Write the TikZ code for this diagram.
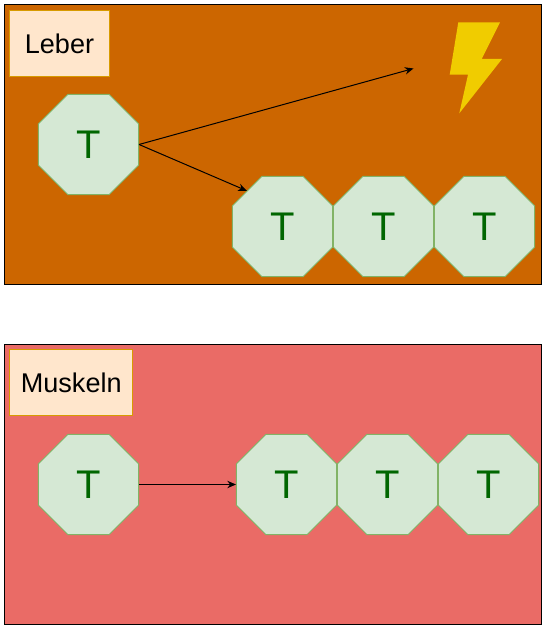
\documentclass[tikz,border=0pt]{standalone}
\usepackage{fontspec}
\setmainfont{Liberation Sans}
\usetikzlibrary{shapes.geometric,arrows.meta}
\definecolor{leberbg}{HTML}{CC6600}
\definecolor{muskelbg}{HTML}{EA6B66}
\definecolor{boltcol}{HTML}{F0CC00}
\definecolor{labelline}{HTML}{D79B00}
\definecolor{labelfill}{HTML}{FFE6CC}
\definecolor{cellline}{HTML}{82B366}
\definecolor{cellfill}{HTML}{D5E8D4}
\definecolor{celltext}{HTML}{006600}
\tikzset{
  panel/.style={draw=black,line width=0.75pt},
  organ/.style={draw=labelline,fill=labelfill,line width=0.75pt,inner sep=0pt,
    font=\fontsize{20.3pt}{24pt}\selectfont},
  tcell/.style={regular polygon,regular polygon sides=8,
    minimum size=81.2pt,inner sep=0pt,draw=cellline,fill=cellfill,line width=0.75pt,
    text=celltext,font=\fontsize{30pt}{36pt}\selectfont},
  flow/.style={draw=black,line width=0.75pt,-{Stealth[length=6.5pt,width=5.5pt]}}
}
\begin{document}
\begin{tikzpicture}[x=0.75pt,y=-0.75pt]
    \useasboundingbox (0,0) rectangle (546,630);
    \draw[panel,fill=leberbg] (4.5,4.5) rectangle (541.5,284.5);
    \draw[panel,fill=muskelbg] (4.5,344.5) rectangle (541.5,624.5);

    \node[organ,minimum width=75pt,minimum height=49.5pt] (leber) at (59.5,43.5) {Leber};
    \node[organ,minimum width=92.5pt,minimum height=49.5pt] (muskeln) at (71.25,382.5) {Muskeln};

    \fill[boltcol] (458.3,22.3) -- (500,22.3) -- (481.7,59) -- (502,59)
      -- (459.3,113.3) -- (468,74.7) -- (449.7,74.7) -- cycle;

    \node[tcell] (L0) at (88.5,144.5) {T};
    \node[tcell] (L1) at (282.5,226.5) {T};
    \node[tcell] (L2) at (383.5,226.5) {T};
    \node[tcell] (L3) at (484.5,226.5) {T};

    \node[tcell] (M0) at (88.5,484.5) {T};
    \node[tcell] (M1) at (286.5,484.5) {T};
    \node[tcell] (M2) at (387.5,484.5) {T};
    \node[tcell] (M3) at (488.5,484.5) {T};

    \coordinate (boltend) at (413.5,68.5);
    \draw[flow] (L0.east) -- (boltend);
    \draw[flow] (L0.east) -- (L1.north west);
    \draw[flow] (M0.east) -- (M1.west);
\end{tikzpicture}
\end{document}
